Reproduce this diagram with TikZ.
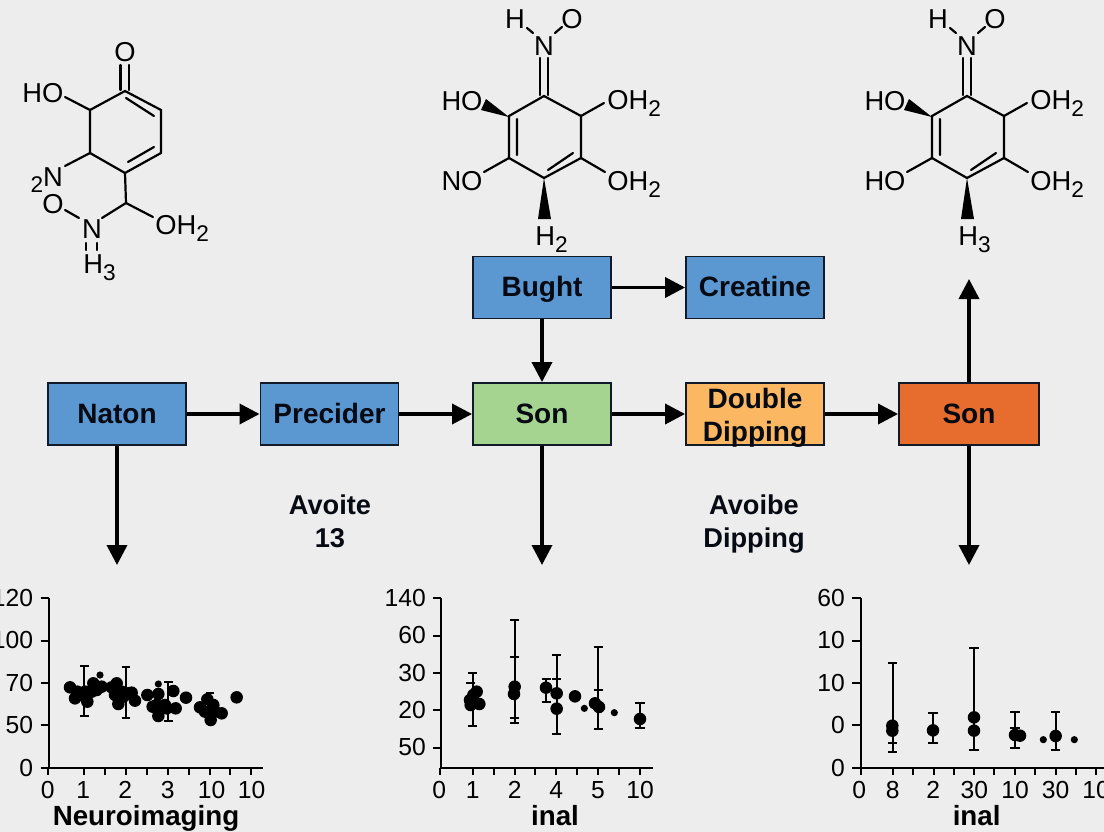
\documentclass[tikz,border=0pt]{standalone}
\usepackage{fontspec}
\setmainfont{Liberation Sans}
\usetikzlibrary{arrows.meta}
\definecolor{bgc}{HTML}{EDEDEE}
\definecolor{bluec}{HTML}{5B97D1}
\definecolor{greenc}{HTML}{A5D390}
\definecolor{orangec}{HTML}{FBB762}
\definecolor{redc}{HTML}{E76D2E}
\definecolor{edgec}{HTML}{101A28}
\definecolor{inkc}{HTML}{060A12}
\newcommand{\subd}[1]{\raisebox{-5.5pt}{\fontsize{17}{17}\selectfont #1}}
\tikzset{
  flowbox/.style={draw=edgec,line width=1.4pt,minimum width=103.5pt,minimum height=46.5pt,inner sep=0pt,
    text=inkc,align=center,font=\fontsize{21}{24.75}\selectfont\bfseries},
  onetext/.style={text height=14.5pt,text depth=1pt},
  flowarrow/.style={line width=2.7pt,draw=black,-{Triangle[length=15pt,width=15pt]},shorten >=0pt},
  freelabel/.style={text=inkc,align=center,inner sep=0pt,font=\fontsize{20.4}{24.75}\selectfont\bfseries},
  chem/.style={anchor=base,inner sep=0pt,text=black,font=\fontsize{20.5}{20.5}\selectfont},
  chemw/.style={chem,anchor=base west},
  bond/.style={line width=1.65pt,draw=black,line cap=round},
  axis/.style={line width=1.5pt,draw=black},
  ebar/.style={line width=1.3pt,draw=black},
  tick/.style={anchor=base,inner sep=0pt,text=black,font=\fontsize{18.5}{18.5}\selectfont},
  ylab/.style={tick,anchor=base east},
  plottitle/.style={anchor=base,inner sep=0pt,text=black,font=\fontsize{20.8}{20.8}\selectfont\bfseries},
}
\newcommand{\hexmol}{%
  \draw[bond] (544,96)--(581,116)--(581,158)--(544,178)--(509,158)--(509,116)--cycle;
  \draw[bond] (517,119)--(517,155) (548,170)--(573,153);
  \draw[bond] (540,58)--(540,95) (548,58)--(548,95);
  \draw[bond] (527,28)--(533,33) (555,33)--(562,27);
  \draw[bond] (581,116)--(604,103) (581,158)--(605,172) (509,158)--(484,172);
  \fill[black] (509,117)--(486,99)--(481,110)--cycle;
  \fill[black] (544,178)--(538,219)--(551,219)--cycle;
}
\newcommand{\errs}[2]{\foreach \xx/\lo/\hi in {#1}{
  \draw[ebar] (\xx,\lo)--(\xx,\hi);
  \draw[ebar] (\xx-#2,\lo)--(\xx+#2,\lo);
  \draw[ebar] (\xx-#2,\hi)--(\xx+#2,\hi);}}
\newcommand{\caps}[2]{\foreach \xx/\yy in {#1}{\draw[ebar] (\xx-#2,\yy)--(\xx+#2,\yy);}}
\newcommand{\bigdots}[1]{\foreach \xx/\yy in {#1}{\fill[black] (\xx,\yy) circle[radius=4.7pt];}}
\newcommand{\smalldots}[1]{\foreach \xx/\yy in {#1}{\fill[black] (\xx,\yy) circle[radius=2.7pt];}}
\begin{document}
\begin{tikzpicture}[x=0.75pt,y=-0.75pt]
\useasboundingbox (0,0) rectangle (1104,832);
\clip (0,0) rectangle (1104,832);
\fill[bgc] (0,0) rectangle (1104,832);

% ---- left molecule
\draw[bond] (125,91)--(161,110)--(161,153)--(125,173)--(90,153)--(90,110)--cycle;
\draw[bond] (126,98)--(154,116) (154,147)--(128,162);
\draw[bond] (120.5,65)--(120.5,90) (129,65)--(129,90);
\draw[bond] (90,110)--(65,97) (90,153)--(65,166);
\draw[bond] (125,173)--(126,203) (126,203)--(102,218) (126,203)--(153,217) (65,210)--(79,218);
\draw[bond] (86,243)--(86,250) (97,243)--(97,250);
\node[chem] (mOa) at (125,61.7) {O};
\node[chem] (mHOa) at (43,102) {HO};
\node[chem] (mNa) at (53,186) {N};
\node[anchor=base,inner sep=0pt,font=\fontsize{17}{17}\selectfont] (mTwoa) at (37,192) {2};
\node[chem] (mObr) at (53,213) {O};
\node[chem] (mNb) at (92,238) {N};
\node[chemw] (mOHa) at (155,234) {OH\subd{2}};
\node[chemw] (mHa) at (83,273) {H\subd{3}};

% ---- middle molecule
\hexmol
\node[chem] (bH) at (515,28) {H};
\node[chem] (bO) at (572,28) {O};
\node[chem] (bN) at (544,55) {N};
\node[chem] (bHO) at (462,110) {HO};
\node[chemw] (bOHa) at (607,109) {OH\subd{2}};
\node[chem] (bNO) at (462,190) {NO};
\node[chemw] (bOHb) at (607,190) {OH\subd{2}};
\node[chemw] (bHb) at (535,245) {H\subd{2}};

% ---- right molecule
\begin{scope}[shift={(423,0)}]
\hexmol
\node[chem] (cH) at (515,28) {H};
\node[chem] (cO) at (572,28) {O};
\node[chem] (cN) at (544,55) {N};
\node[chem] (cHO) at (462,110) {HO};
\node[chemw] (cOHa) at (607,109) {OH\subd{2}};
\node[chem] (cHOb) at (462,190) {HO};
\node[chemw] (cOHb) at (607,190) {OH\subd{2}};
\node[chemw] (cHb) at (535,245) {H\subd{3}};
\end{scope}

% ---- flow
\node[flowbox,onetext,fill=bluec] (naton) at (117,414) {Naton};
\node[flowbox,onetext,fill=bluec] (precider) at (329.5,414) {Precider};
\node[flowbox,onetext,fill=greenc] (son) at (542,414) {Son};
\node[flowbox,fill=orangec] (double) at (755,414) {};
\node[flowbox,draw=none,minimum width=0pt,minimum height=0pt] (doubletext) at (755,417.5) {Double\\Dipping};
\node[flowbox,onetext,fill=redc,minimum width=105pt] (sonb) at (969,414) {Son};
\node[flowbox,onetext,fill=bluec] (bught) at (542,287.5) {Bught};
\node[flowbox,onetext,fill=bluec] (creatine) at (755,287.5) {Creatine};
\coordinate (naDown) at (117,565);
\coordinate (soDown) at (542,565);
\coordinate (sbDown) at (969,565);
\coordinate (sbUp) at (969,279);
\draw[flowarrow] (naton) -- (precider);
\draw[flowarrow] (precider) -- (son);
\draw[flowarrow] (son) -- (double);
\draw[flowarrow] (double) -- (sonb);
\draw[flowarrow] (bught) -- (creatine);
\draw[flowarrow] (bught) -- (son);
\draw[flowarrow] (naton) -- (naDown);
\draw[flowarrow] (son) -- (soDown);
\draw[flowarrow] (sonb) -- (sbDown);
\draw[flowarrow] (sonb) -- (sbUp);
\node[freelabel] (avoite) at (330,521) {Avoite\\13};
\node[freelabel] (avoibe) at (754,524) {Avoibe\\Dipping};

% ---- plot 1
\begin{scope}[shift={(0,580)},x=0.25pt,y=-0.25pt]
\draw[axis] (147,55)--(147,565);
\draw[axis] (122,565)--(790,565);
\foreach \t in {55,182,309,435}{\draw[axis] (122,\t)--(147,\t);}
\foreach \t in {145,253,315,378,440,503,566,629,691,754}{\draw[axis] (\t,565)--(\t,585);}
\errs{253/258/407,378/260/415,505/305/423}{13}
\caps{630/340}{13}
\draw[ebar] (630,340)--(630,420);
\bigdots{210/322,225/355,232/335,262/365,255/335,280/310,275/335,305/320,335/322,350/310,345/345,355/372,365/335,385/340,395/338,405/362,442/345,458/380,475/342,475/408,495/375,520/333,527/385,558/353,600/382,622/358,615/395,640/375,632/420,665/400,710/352,645/395,500/385,470/375,240/345,290/330,350/340,370/350}
\smalldots{300/285,475/312}
\node[ylab] (a1) at (100,78) {120};
\node[ylab] (a2) at (100,206) {100};
\node[ylab] (a3) at (100,333) {70};
\node[ylab] (a4) at (100,459) {50};
\node[ylab] (a5) at (100,588) {0};
\node[tick] (x1) at (143,655) {0};
\node[tick] (x2) at (250,655) {1};
\node[tick] (x3) at (376,655) {2};
\node[tick] (x4) at (503,655) {3};
\node[tick] (x5) at (635,655) {10};
\node[tick] (x6) at (755,655) {10};
\node[plottitle] (t1) at (438,735) {Neuroimaging};
\end{scope}

% ---- plot 2
\begin{scope}[shift={(380,580)},x=0.25pt,y=-0.25pt]
\draw[axis] (183,53)--(183,565);
\draw[axis] (160,53)--(183,53);
\draw[axis] (183,565)--(820,565);
\foreach \t in {167,279,390,503}{\draw[axis] (160,\t)--(183,\t);}
\foreach \t in {181,278,342,404,466,529,592,654,717,780}{\draw[axis] (\t,565)--(\t,585);}
\errs{278/280/438,404/120/430,499/296/367,530/225/462,655/202/448,780/370/445}{14}
\caps{272/308,404/232,404/413,530/298,655/331}{14}
\bigdots{270/360,280/345,290/335,298/372,272/375,404/320,402/342,498/323,530/340,530/386,585/349,645/370,657/381,780/417}
\smalldots{613/385,703/398}
\node[ylab] (b1) at (138,78) {140};
\node[ylab] (b2) at (138,191) {60};
\node[ylab] (b3) at (138,303) {30};
\node[ylab] (b4) at (138,414) {20};
\node[ylab] (b5) at (138,527) {50};
\node[tick] (y1) at (178,655) {0};
\node[tick] (y2) at (278,655) {1};
\node[tick] (y3) at (404,655) {2};
\node[tick] (y4) at (529,655) {4};
\node[tick] (y5) at (654,655) {5};
\node[tick] (y6) at (780,655) {10};
\node[plottitle] (t2) at (525,735) {inal};
\end{scope}

% ---- plot 3
\begin{scope}[shift={(810,580)},x=0.25pt,y=-0.25pt]
\draw[axis] (152,55)--(152,565);
\draw[axis] (127,565)--(890,565);
\foreach \t in {55,182,309,435}{\draw[axis] (127,\t)--(152,\t);}
\foreach \t in {152,248,310,371,432,493,553,615,676,737,797,858}{\draw[axis] (\t,565)--(\t,585);}
\errs{248/248/517,369/398/490,492/203/509,615/397/503,737/395/510}{14}
\caps{248/490,615/443}{14}
\bigdots{247/437,247/452,369/451,492/412,492/452,615/465,630/467,737/468}
\smalldots{700/479,793/479}
\node[ylab] (c1) at (105,78) {60};
\node[ylab] (c2) at (105,206) {10};
\node[ylab] (c3) at (105,333) {10};
\node[ylab] (c4) at (105,459) {0};
\node[ylab] (c5) at (105,588) {0};
\node[tick] (z1) at (148,655) {0};
\node[tick] (z2) at (248,655) {8};
\node[tick] (z3) at (370,655) {2};
\node[tick] (z4) at (493,655) {30};
\node[tick] (z5) at (615,655) {10};
\node[tick] (z6) at (737,655) {30};
\node[tick] (z7) at (858,655) {10};
\node[plottitle] (t3) at (500,735) {inal};
\end{scope}
\end{tikzpicture}
\end{document}
